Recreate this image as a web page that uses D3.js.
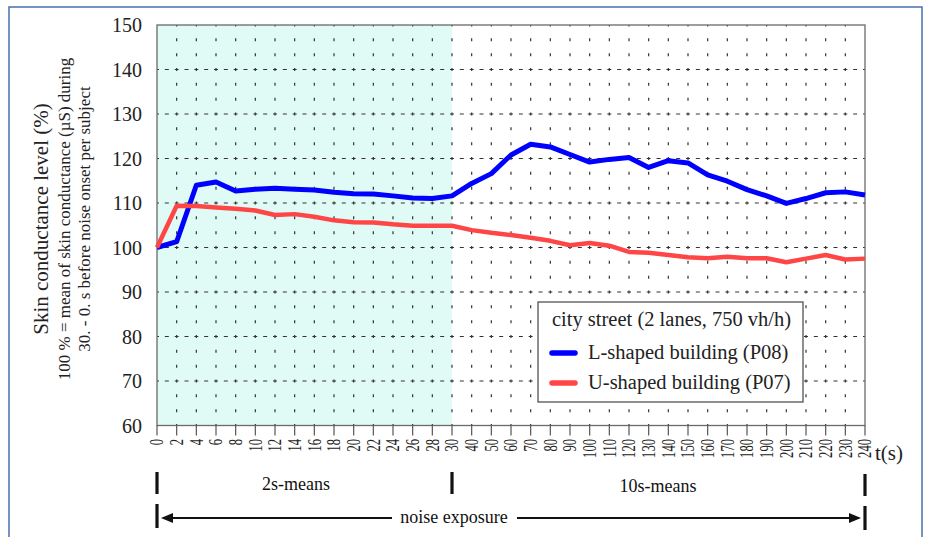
<!DOCTYPE html>
<html>
<head>
<meta charset="utf-8">
<script src="https://cdn.jsdelivr.net/npm/d3@7"></script>
<style>
  html, body { margin: 0; padding: 0; background: #fff; }
  svg text { font-family: "Liberation Serif", "Times New Roman", Times, "DejaVu Serif", serif; }
</style>
</head>
<body>
<svg id="chart" width="926" height="537"></svg>
<script>
// time axis: 2s means up to 30 s, then 10s means
const times = [0, 2, 4, 6, 8, 10, 12, 14, 16, 18, 20, 22, 24, 26, 28, 30,
  40, 50, 60, 70, 80, 90, 100, 110, 120, 130, 140, 150, 160, 170, 180, 190, 200, 210, 220, 230, 240];
const yTicks = [60, 70, 80, 90, 100, 110, 120, 130, 140, 150];

const lShaped = [100, 101.3, 114.0, 114.7, 112.7, 113.1, 113.3, 113.1, 112.9, 112.4, 112.1, 112.0, 111.6, 111.1, 111.0, 111.6,
  114.4, 116.6, 120.8, 123.2, 122.6, 120.9, 119.2, 119.8, 120.2, 118.0, 119.5, 119.0, 116.3, 114.9, 113.0, 111.6, 109.9, 111.0, 112.3, 112.5, 111.8];
const uShaped = [100, 109.4, 109.3, 109.0, 108.7, 108.3, 107.3, 107.5, 106.9, 106.1, 105.7, 105.6, 105.2, 104.9, 104.9, 104.9,
  103.9, 103.3, 102.8, 102.2, 101.5, 100.5, 101.0, 100.4, 99.0, 98.8, 98.3, 97.8, 97.6, 97.9, 97.6, 97.6, 96.7, 97.5, 98.3, 97.3, 97.5];

const series = [
  {name: "L-shaped building (P08)", values: lShaped, color: "#0000ff", width: 5},
  {name: "U-shaped building (P07)", values: uShaped, color: "#ff4646", width: 4.5},
];

const svg = d3.select("#chart");
const plot = {left: 157, right: 865, top: 25, bottom: 425.5};

const x = d3.scalePoint().domain(times).range([plot.left, plot.right]);
const y = d3.scaleLinear().domain([60, 150]).range([plot.bottom, plot.top]);

// outer frame
svg.append("rect")
  .attr("x", 9).attr("y", 7).attr("width", 913).attr("height", 540)
  .attr("fill", "none").attr("stroke", "#4a6fb0").attr("stroke-width", 1.5);

// 2s-means shaded region
svg.append("rect")
  .attr("x", x(0)).attr("y", plot.top)
  .attr("width", x(30) - x(0)).attr("height", plot.bottom - plot.top)
  .attr("fill", "#e0faf6");

// grid
const grid = svg.append("g").attr("stroke", "#333").attr("fill", "none");
const vStep = (y(140) - y(150)) / 3;
grid.selectAll("line.v")
  .data(times.slice(1, -1))
  .join("line")
  .attr("class", "v")
  .attr("x1", d => x(d)).attr("x2", d => x(d))
  .attr("y1", plot.bottom).attr("y2", plot.top)
  .attr("stroke-width", 1.2)
  .attr("stroke-dasharray", `3,${vStep - 3}`)
  .attr("stroke-dashoffset", -vStep + 1.5);
const hStep = (x(2) - x(0)) / 2;
grid.selectAll("line.h")
  .data(yTicks.slice(1, -1))
  .join("line")
  .attr("class", "h")
  .attr("x1", plot.left).attr("x2", plot.right)
  .attr("y1", d => y(d)).attr("y2", d => y(d))
  .attr("stroke-width", 1)
  .attr("stroke-dasharray", `4,${hStep - 4}`)
  .attr("stroke-dashoffset", -hStep + 2);

// plot border
svg.append("rect")
  .attr("x", plot.left).attr("y", plot.top)
  .attr("width", plot.right - plot.left).attr("height", plot.bottom - plot.top)
  .attr("fill", "none").attr("stroke", "#6a6a6a").attr("stroke-width", 1.3);

// y axis labels
svg.append("g")
  .selectAll("text")
  .data(yTicks)
  .join("text")
  .attr("x", 142)
  .attr("y", d => y(d))
  .attr("dy", "0.35em")
  .attr("text-anchor", "end")
  .attr("font-size", 20)
  .attr("fill", "#222")
  .text(d => d);

// x axis ticks and rotated labels
const xAxis = svg.append("g");
xAxis.selectAll("line")
  .data(times)
  .join("line")
  .attr("x1", d => x(d)).attr("x2", d => x(d))
  .attr("y1", plot.bottom).attr("y2", plot.bottom + 10)
  .attr("stroke", "#555").attr("stroke-width", 1.2);
xAxis.selectAll("text")
  .data(times)
  .join("text")
  .attr("transform", d => `translate(${x(d)},439) rotate(-90) scale(0.7,1)`)
  .attr("dy", "0.35em")
  .attr("text-anchor", "end")
  .attr("font-size", 18)
  .attr("fill", "#222")
  .text(d => d);
svg.append("text")
  .attr("x", 875).attr("y", 460)
  .attr("font-size", 21).attr("fill", "#222")
  .text("t(s)");

// y axis title
const yTitle = svg.append("g").attr("transform", "translate(0,219) rotate(-90)").attr("text-anchor", "middle").attr("fill", "#222");
yTitle.append("text").attr("x", 0).attr("y", 48).attr("font-size", 21).text("Skin conductance level (%)");
yTitle.append("text").attr("x", 0).attr("y", 70).attr("font-size", 17).text("100 % = mean of skin conductance (µS) during");
yTitle.append("text").attr("x", 0).attr("y", 90).attr("font-size", 17).text("30. - 0. s before noise onset per subject");

// series lines
const line = d3.line().x((d, i) => x(times[i])).y(d => y(d));
svg.append("g")
  .selectAll("path")
  .data(series)
  .join("path")
  .attr("d", d => line(d.values))
  .attr("fill", "none")
  .attr("stroke", d => d.color)
  .attr("stroke-width", d => d.width)
  .attr("stroke-linejoin", "round");

// legend
const legend = svg.append("g");
legend.append("rect")
  .attr("x", 538).attr("y", 302).attr("width", 265).attr("height", 100)
  .attr("fill", "#fff").attr("stroke", "#444").attr("stroke-width", 1.2);
legend.append("text")
  .attr("x", 552).attr("y", 326).attr("font-size", 20.5).attr("fill", "#222")
  .text("city street (2 lanes, 750 vh/h)");
series.forEach((s, i) => {
  const ly = 353 + i * 30;
  legend.append("line")
    .attr("x1", 552).attr("x2", 575).attr("y1", ly).attr("y2", ly)
    .attr("stroke", s.color).attr("stroke-width", 5.5).attr("stroke-linecap", "round");
  legend.append("text")
    .attr("x", 588).attr("y", ly + 6).attr("font-size", 20.5).attr("fill", "#222")
    .text(s.name);
});

// annotations below the axis
const ann = svg.append("g").attr("fill", "#111");
const bars = [[0, 472, 494], [30, 472, 494], [240, 474, 496], [0, 504, 528], [240, 506, 530]];
ann.selectAll("line.bar")
  .data(bars)
  .join("line")
  .attr("class", "bar")
  .attr("x1", d => x(d[0])).attr("x2", d => x(d[0]))
  .attr("y1", d => d[1]).attr("y2", d => d[2])
  .attr("stroke", "#111").attr("stroke-width", 3.2);
ann.append("text").attr("x", 296).attr("y", 490).attr("text-anchor", "middle").attr("font-size", 18).text("2s-means");
ann.append("text").attr("x", 658).attr("y", 492).attr("text-anchor", "middle").attr("font-size", 18).text("10s-means");

const ay = 518;
ann.append("line").attr("x1", x(0) + 6).attr("x2", 392).attr("y1", ay).attr("y2", ay).attr("stroke", "#111").attr("stroke-width", 2);
ann.append("line").attr("x1", 517).attr("x2", x(240) - 6).attr("y1", ay).attr("y2", ay).attr("stroke", "#111").attr("stroke-width", 2);
ann.append("path").attr("d", `M${x(0) + 4},${ay} l12,-5 l0,10 z`);
ann.append("path").attr("d", `M${x(240) - 4},${ay} l-12,-5 l0,10 z`);
ann.append("text").attr("x", 454).attr("y", 523).attr("text-anchor", "middle").attr("font-size", 18).text("noise exposure");
</script>
</body>
</html>
